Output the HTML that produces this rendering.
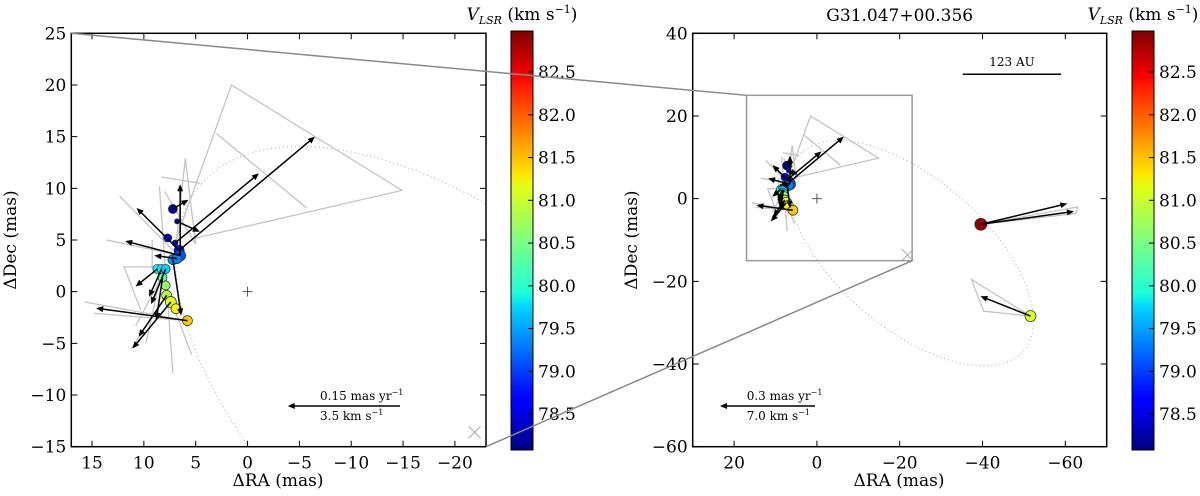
<!DOCTYPE html>
<html><head><meta charset="utf-8"><style>
html,body{margin:0;padding:0;background:#fff;overflow:hidden;width:1200px;height:496px;}
svg{display:block;font-family:"DejaVu Serif","Liberation Serif",serif;}
</style></head><body>
<svg id="fig" width="1200" height="496" viewBox="0 0 1200 496" xmlns="http://www.w3.org/2000/svg">
<defs>
<clipPath id="clipL"><rect x="71.3" y="33.3" width="414.7" height="413.4"/></clipPath>
<clipPath id="clipR"><rect x="692.7" y="33.3" width="414" height="413.4"/></clipPath>
<linearGradient id="jet" x1="0" y1="1" x2="0" y2="0">
<stop offset="0" stop-color="#00007f"/><stop offset="0.11" stop-color="#0000ff"/><stop offset="0.125" stop-color="#0000ff"/>
<stop offset="0.34" stop-color="#00d4ff"/><stop offset="0.375" stop-color="#1cffdb"/><stop offset="0.5" stop-color="#7fff7f"/>
<stop offset="0.625" stop-color="#e0ff16"/><stop offset="0.66" stop-color="#ffe600"/><stop offset="0.875" stop-color="#ff1400"/>
<stop offset="0.89" stop-color="#fa0000"/><stop offset="1" stop-color="#7f0000"/>
</linearGradient>
</defs>
<g id="root"></g>
</svg>
<script>
// ---- data ----
const spotRA  = [7.2, 6.8, 7.7, 7.0, 6.6, 6.5, 7.2, 6.8, 8.7, 8.3, 7.9, 8.2, 7.9, 7.8, 7.4, 6.9, 5.8, -39.6, -51.6];
const spotDec = [8.0, 6.8, 5.2, 4.7, 4.0, 3.5, 3.1, 3.2, 2.2, 2.2, 2.2, 1.35, 0.6, -0.35, -1.0, -1.65, -2.8, -6.2, -28.4];
const spotVel = [78.2, 78.4, 78.5, 78.6, 78.8, 79.1, 79.4, 79.3, 80.0, 79.8, 79.7, 80.3, 80.6, 80.8, 81.0, 81.2, 81.4, 82.9, 80.95];
const spotSize = [4.5, 2.5, 4, 3, 5, 5.5, 5, 5, 4.5, 4.5, 4.5, 4.5, 4.5, 5, 5.5, 5, 5, 6, 5.5];
const arrowSpot = [0, 1, 3, 4, 5, 6, 7, 8, 9, 10, 11, 13, 14, 16, 4, 5, 17, 17, 18];
const arrowDRA  = [-1.5, -2.2, -8.1, -13.1, 0.0, -0.8, 2.2, 2.1, 1.2, 1.4, 0.6, 2.7, 3.7, 8.8, 4.1, 5.3, -20.9, -22.5, 12.1];
const arrowDDec = [0.9, -1.0, 6.75, 11.0, 6.9, -5.4, 0.3, -1.7, -2.7, -3.4, -4.05, -4.0, -4.5, 1.2, 4.1, 1.4, 5.0, 3.1, 4.8];
const greyLines = [
 [[7.03,4.7],[1.55,20.0],[-14.9,9.8],[5.4,5.1]],
 [[3.0,15.3],[-5.7,8.1]],
 [[12.35,9.26],[7.2,4.0]],
 [[13.6,5.0],[7.5,3.7]],
 [[15.7,-1.0],[5.9,-2.8],[14.8,-2.1]],
 [[11.2,-5.5],[7.8,-0.35]],
 [[11.9,2.4],[10.3,-1.8]],
 [[8.5,10.2],[7.2,-7.9]],
 [[6.0,12.9],[7.0,3.7]],
 [[5.4,-6.1],[6.9,-2.1]],
 [[8.3,11.1],[4.6,10.5]],
 [[12.0,2.4],[8.3,2.4]],
 [[9.2,5.0],[9.2,2.2]],
 [[6.0,12.9],[5.0,4.6],[8.0,9.7]],
 [[10.8,-3.3],[8.5,1.0],[9.8,-5.0]],
 [[-51.6,-28.4],[-37.3,-19.5],[-40.3,-27.2],[-51.6,-28.4]],
 [[-39.6,-6.2],[-63.0,-2.0],[-62.5,-3.6],[-39.6,-6.2]]
];
const cbTicks = [78.5, 79.0, 79.5, 80.0, 80.5, 81.0, 81.5, 82.0, 82.5];
const xTicksL = [15, 10, 5, 0, -5, -10, -15, -20];
const yTicksL = [25, 20, 15, 10, 5, 0, -5, -10, -15];
const xTicksR = [20, 0, -20, -40, -60];
const yTicksR = [40, 20, 0, -20, -40, -60];
const ellipse = {cx:-22.7, cy:-13.2, a:36, b:18, ang:41};
const vmin = 78.08, vmax = 82.98;

// ---- helpers ----
const NS = "http://www.w3.org/2000/svg";
const root = document.getElementById('root');
function mk(tag, attrs, parent){const e=document.createElementNS(NS,tag);for(const k in attrs)e.setAttribute(k,attrs[k]);(parent||root).appendChild(e);return e;}
function lin(d0,d1,r0,r1){return v=>r0+(v-d0)*(r1-r0)/(d1-d0);}
function jet(v){let t=(v-vmin)/(vmax-vmin);t=Math.max(0,Math.min(1,t));
 const c=x=>Math.round(255*Math.max(0,Math.min(1,x)));
 return `rgb(${c(1.5-Math.abs(4*t-3))},${c(1.5-Math.abs(4*t-2))},${c(1.5-Math.abs(4*t-1))})`;}
function fmt(v){return (v<0?'\u2212':'')+Math.abs(v);}

const panels = [
 {id:'left', x:lin(17,-23,71.3,486), y:lin(25,-15,33.3,446.7), box:[71.3,33.3,486,446.7], clip:'clipL', xt:xTicksL, yt:yTicksL, cbx:511, yl:16, xlx:278},
 {id:'right', x:lin(30,-70,692.7,1106.7), y:lin(40,-60,33.3,446.7), box:[692.7,33.3,1106.7,446.7], clip:'clipR', xt:xTicksR, yt:yTicksR, cbx:1132, yl:637, xlx:899}
];

panels.forEach(p=>{
 const g = mk('g',{});
 
 
 const cg = mk('g',{'clip-path':`url(#${p.clip})`}, g);
 const [bx0,by0,bx1,by1]=p.box;
 const inside=(X,Y)=>X>=bx0-1&&X<=bx1+1&&Y>=by0-1&&Y<=by1+1;
 const ar=ellipse.ang*Math.PI/180;
 let segs=[], cur=[];
 for(let i=0;i<=360;i++){const t=i/360*2*Math.PI;
  const u=ellipse.a*Math.cos(t), v=ellipse.b*Math.sin(t);
  const ra=ellipse.cx+u*Math.cos(ar)-v*Math.sin(ar), de=ellipse.cy+u*Math.sin(ar)+v*Math.cos(ar);
  const X=p.x(ra), Y=p.y(de);
  if(inside(X,Y)){cur.push(X.toFixed(1)+','+Y.toFixed(1));}
  else{if(cur.length>1)segs.push(cur);cur=[];}
 }
 if(cur.length>1)segs.push(cur);
 segs.forEach(s=>{
  const el = mk('polyline',{points:s.join(' '),fill:'none',stroke:'#aaa','stroke-width':1,'stroke-dasharray':'1 3'},cg);
  
  
 });
 greyLines.forEach(l=>{
  if(!l.every(q=>inside(p.x(q[0]),p.y(q[1])))) return;
  const pl = mk('polyline',{points:l.map(q=>p.x(q[0]).toFixed(1)+','+p.y(q[1]).toFixed(1)).join(' '),fill:'none',stroke:'#c4c4c4','stroke-width':1.3},cg);
  
  
 });
 if(p.id==='right'){
  const r = mk('rect',{x:p.x(17),y:p.y(25),width:p.x(-23)-p.x(17),height:p.y(-15)-p.y(25),fill:'none',stroke:'#999','stroke-width':1.5},cg);
  
  
 }
 const cx0=p.x(0), cy0=p.y(0);
 const pm = mk('path',{d:`M${cx0-5},${cy0}H${cx0+5}M${cx0},${cy0-5}V${cy0+5}`,stroke:'#555','stroke-width':1},cg);
 
 
 const xx=p.x(-21.9), xy=p.y(-13.6);
 const xm = mk('path',{d:`M${xx-6},${xy-6}L${xx+6},${xy+6}M${xx-6},${xy+6}L${xx+6},${xy-6}`,stroke:'#aaa','stroke-width':1},cg);
 
 
 spotRA.forEach((ra,i)=>{
  const X=p.x(ra), Y=p.y(spotDec[i]);
  if(!inside(X,Y)) return;
  const c = mk('circle',{cx:X,cy:Y,r:spotSize[i],fill:jet(spotVel[i]),stroke:'#222','stroke-width':0.7},cg);
  
  
 });
 arrowSpot.forEach((si,i)=>{
  const x1=p.x(spotRA[si]), y1=p.y(spotDec[si]);
  if(!inside(x1,y1)) return;
  const x2=p.x(spotRA[si]+arrowDRA[i]), y2=p.y(spotDec[si]+arrowDDec[i]);
  const a=Math.atan2(y2-y1,x2-x1), h=7, w=3;
  const bx=x2-h*Math.cos(a), by=y2-h*Math.sin(a);
  const ag = mk('g',{},cg);
  
  
  mk('line',{x1:x1,y1:y1,x2:bx+2*Math.cos(a),y2:by+2*Math.sin(a),stroke:'#000','stroke-width':1.5},ag);
  mk('path',{d:`M${x2},${y2}L${bx-w*Math.sin(a)},${by+w*Math.cos(a)}L${bx+w*Math.sin(a)},${by-w*Math.cos(a)}Z`,fill:'#000'},ag);
 });
 const ax = mk('rect',{x:bx0,y:by0,width:bx1-bx0,height:by1-by0,fill:'none',stroke:'#000','stroke-width':1.5},g);
 
 
 p.xt.forEach(v=>{const X=p.x(v);
  mk('path',{d:`M${X},${by1}v-6M${X},${by0}v6`,stroke:'#000','stroke-width':1},g);
  const t=mk('text',{x:X,y:by1+22,'font-size':17,'text-anchor':'middle'},g);t.textContent=fmt(v);
  
  
 });
 p.yt.forEach(v=>{const Y=p.y(v);
  mk('path',{d:`M${bx0},${Y}h6M${bx1},${Y}h-6`,stroke:'#000','stroke-width':1},g);
  const t=mk('text',{x:bx0-5,y:Y+6,'font-size':17,'text-anchor':'end'},g);t.textContent=fmt(v);
  
  
 });
 const xl=mk('text',{x:p.xlx,y:486,'font-size':17,'text-anchor':'middle'},g);xl.textContent='\u0394RA (mas)';
 
 
 const yl=mk('text',{x:p.yl,y:240,'font-size':17,'text-anchor':'middle',transform:`rotate(-90 ${p.yl} 240)`},g);yl.textContent='\u0394Dec (mas)';
 
 
 const cb = mk('g',{},g);
 
 
 mk('rect',{x:p.cbx,y:31,width:22,height:419,fill:'url(#jet)',stroke:'#000','stroke-width':1},cb);
 const cy=lin(vmin,vmax,450,31);
 cbTicks.forEach(v=>{const Y=cy(v);
  mk('path',{d:`M${p.cbx+22},${Y}h-5`,stroke:'#000','stroke-width':1},cb);
  const t=mk('text',{x:p.cbx+27,y:Y+6,'font-size':17},cb);t.textContent=v.toFixed(1);
  
  
 });
 const ct=mk('text',{x:p.cbx+11,y:20,'font-size':17,'text-anchor':'middle'},cb);
 ct.innerHTML='<tspan font-style="italic">V</tspan><tspan font-style="italic" font-size="11" dy="4">LSR</tspan><tspan dy="-4"> (km s</tspan><tspan font-size="11" dy="-7">\u22121</tspan><tspan dy="7">)</tspan>';
 
 
});

function refArrow(x1,x2,y,t1,t2,tx,name){
 const g=mk('g',{});
 
 
 mk('line',{x1:x1,y1:y,x2:x2+6,y2:y,stroke:'#000','stroke-width':1.5},g);
 mk('path',{d:`M${x2},${y}l7,-3v6z`,fill:'#000'},g);
 const a=mk('text',{x:tx,y:y-6,'font-size':12},g);a.innerHTML=t1+'<tspan font-size="8" dy="-5">\u22121</tspan>';
 const b=mk('text',{x:tx,y:y+14,'font-size':12},g);b.innerHTML=t2+'<tspan font-size="8" dy="-5">\u22121</tspan>';
}
refArrow(400,287.7,406,'0.15 mas yr','3.5 km s',320,'left-reference-arrow');
refArrow(815,720,406,'0.3 mas yr','7.0 km s',746.7,'right-reference-arrow');

const sb=mk('g',{});


mk('line',{x1:962.8,y1:74.3,x2:1061,y2:74.3,stroke:'#000','stroke-width':1.5},sb);
const sbt=mk('text',{x:1012,y:66,'font-size':12,'text-anchor':'middle'},sb);sbt.textContent='123 AU';

const tt=mk('text',{x:899.7,y:21,'font-size':17,'text-anchor':'middle'});tt.textContent='G31.047+00.356';



const pr=panels[1];
const c1=mk('line',{x1:71.3,y1:33.3,x2:pr.x(17),y2:pr.y(25),stroke:'#888','stroke-width':1.5});


const c2=mk('line',{x1:486,y1:446.7,x2:pr.x(-23),y2:pr.y(-15),stroke:'#888','stroke-width':1.5});


</script>
</body></html>
